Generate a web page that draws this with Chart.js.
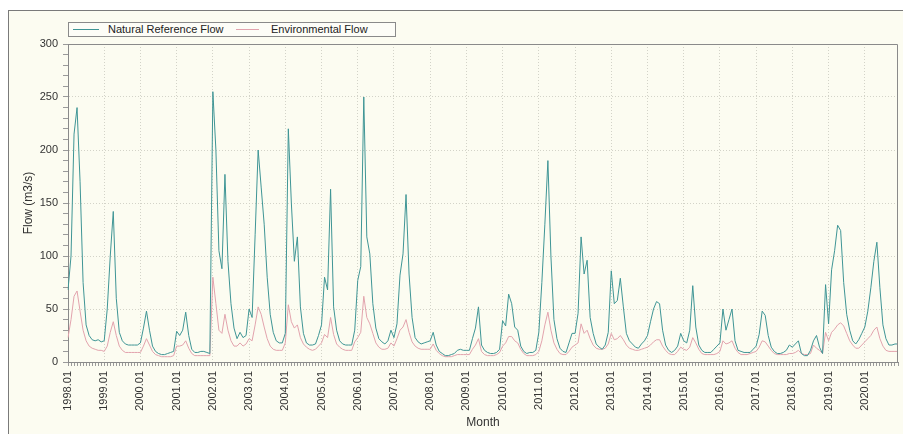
<!DOCTYPE html>
<html><head><meta charset="utf-8">
<script src="https://cdn.jsdelivr.net/npm/chart.js@4.4.0/dist/chart.umd.min.js"></script>
<style>
html,body{margin:0;padding:0;background:#fff;width:903px;height:434px;overflow:hidden}
#frame{position:absolute;left:8px;top:10px;width:1000px;height:1000px;border:1px solid #7a7a7a;background:#fcfcf1}
#wrap{position:absolute;left:0;top:0;width:903px;height:434px}
#legend{position:absolute;left:68px;top:22px;width:326px;height:13px;border:1px solid #8a8a8a;background:#fdfdf7;font:11px "Liberation Sans",Arial,sans-serif;color:#222}
.sw{position:absolute;top:6px;height:1px}
.lt{position:absolute;top:0;line-height:13px;white-space:nowrap}
</style></head><body>
<div id="frame"></div>
<div id="wrap"><canvas id="c" width="903" height="434"></canvas></div>
<div id="legend"></div>
<script>
// ---- data ----
const years = ['1998','1999','2000','2001','2002','2003','2004','2005','2006','2007','2008','2009','2010','2011','2012','2013','2014','2015','2016','2017','2018','2019','2020'];
const months = ['01','02','03','04','05','06','07','08','09','10','11','12'];
const seriesNames = ['Natural Reference Flow', 'Environmental Flow'];
const xTitle = 'Month';
const yTitle = 'Flow (m3/s)';
const yTickValues = [0,10,20,30,40,50,60,70,80,90,100,110,120,130,140,150,160,170,180,190,200,210,220,230,240,250,260,270,280,290,300];
const yLabelValues = [0,50,100,150,200,250,300];

const natural = [
  68,100,215,240,170,75,35,25,21,20,21,19,      // 1998
  20,50,100,142,60,28,20,17,16,16,16,16,        // 1999
  18,32,48,30,15,10,8,7,7,8,9,10,               // 2000
  29,25,30,47,25,12,9,9,10,10,9,8,              // 2001
  255,200,105,88,177,95,55,32,22,28,23,25,      // 2002
  50,42,120,200,165,130,80,45,28,20,18,18,      // 2003
  27,220,150,95,118,52,27,18,16,16,17,25,       // 2004
  35,80,68,163,52,30,20,17,16,16,16,30,         // 2005
  77,90,250,118,102,55,32,22,19,17,20,30,       // 2006
  23,36,82,102,158,83,42,23,19,17,18,19,        // 2007
  20,28,16,10,8,6,6,7,8,11,12,11,               // 2008
  11,11,22,32,52,16,11,9,8,8,9,12,              // 2009
  39,34,64,55,33,30,15,10,8,9,9,11,             // 2010
  28,75,130,190,100,40,22,13,10,9,18,27,        // 2011
  27,46,118,83,96,42,27,17,14,12,16,28,         // 2012
  86,55,58,79,52,27,20,17,14,13,17,20,          // 2013
  25,38,50,57,55,30,16,11,9,11,15,27,           // 2014
  20,18,30,72,33,16,11,9,9,9,12,15,             // 2015
  18,50,30,40,50,20,11,10,9,9,9,12,             // 2016
  15,26,48,44,25,14,10,8,8,9,11,16,             // 2017
  14,17,20,8,6,6,11,20,25,14,8,73,              // 2018
  36,87,105,129,124,75,45,30,20,17,21,27,       // 2019
  33,48,70,95,113,70,35,22,16,16,17,17          // 2020
];
const environmental = [
  23,40,62,67,48,30,20,15,13,12,11,11,          // 1998
  10,15,28,38,25,15,11,9,9,9,9,9,               // 1999
  9,15,22,16,10,7,6,5,5,5,5,6,                  // 2000
  15,15,16,20,13,8,6,6,6,6,6,6,                 // 2001
  80,55,30,27,45,30,20,15,15,18,15,17,          // 2002
  22,20,35,52,45,33,22,15,12,11,11,11,          // 2003
  18,54,38,32,35,23,17,14,12,11,12,15,          // 2004
  18,26,23,42,26,17,14,12,11,11,11,19,          // 2005
  23,28,62,42,36,27,18,14,12,12,13,18,          // 2006
  15,22,30,33,40,28,19,15,13,12,12,12,          // 2007
  12,17,11,8,6,5,5,5,6,7,7,7,                   // 2008
  7,7,12,16,22,10,7,6,6,6,7,9,                  // 2009
  15,18,24,24,20,18,12,8,6,6,6,7,               // 2010
  10,20,35,47,30,18,12,8,7,7,10,14,             // 2011
  16,18,36,27,30,22,16,13,12,12,13,17,          // 2012
  27,21,22,25,21,16,13,12,11,11,12,13,          // 2013
  14,16,19,21,21,15,11,8,7,7,10,14,             // 2014
  12,11,14,23,18,12,8,7,7,7,7,8,                // 2015
  10,20,17,18,20,13,9,7,7,7,8,9,                // 2016
  10,14,20,19,15,11,8,7,7,7,7,8,                // 2017
  8,9,11,8,7,7,8,16,13,11,8,28,                 // 2018
  20,28,31,35,37,34,27,20,16,13,13,16,          // 2019
  19,22,25,30,33,22,15,11,10,10,10,10           // 2020
];

const categories = [];
years.forEach(y => months.forEach(m => categories.push(y + '.' + m)));

// ---- styles ----
const colors = ['#3f9595', '#e2a3ad'];
const FONT = '"Liberation Sans", Arial, sans-serif';
const gridCol = '#d3d3c8';
const axisCol = '#8a8a8a';

// legend (HTML, built from series names)
const lg = document.getElementById('legend');
const lpos = [{sw:4, w:26, t:39}, {sw:167, w:23, t:202}];
seriesNames.forEach((n, i) => {
  const s = document.createElement('div'); s.className = 'sw';
  s.style.left = lpos[i].sw + 'px'; s.style.width = lpos[i].w + 'px'; s.style.background = colors[i];
  const t = document.createElement('div'); t.className = 'lt';
  t.style.left = lpos[i].t + 'px'; t.textContent = n;
  lg.appendChild(s); lg.appendChild(t);
});

const framePlugin = {
  id: 'frame',
  afterDatasetsDraw(chart) {
    const {ctx, chartArea: a} = chart;
    ctx.save();
    ctx.strokeStyle = axisCol; ctx.lineWidth = 1;
    ctx.beginPath();
    const L = Math.round(a.left) + 0.5, T = Math.round(a.top) + 0.5, R = Math.round(a.right) - 0.5, B = Math.round(a.bottom) + 0.5;
    ctx.moveTo(L, T); ctx.lineTo(R, T); ctx.lineTo(R, B);
    ctx.stroke();
    ctx.restore();
  }
};

new Chart(document.getElementById('c'), {
  type: 'line',
  data: {
    labels: categories,
    datasets: [
      {label: seriesNames[0], data: natural, borderColor: colors[0], borderWidth: 1, pointRadius: 0, fill: false, tension: 0},
      {label: seriesNames[1], data: environmental, borderColor: colors[1], borderWidth: 1, pointRadius: 0, fill: false, tension: 0}
    ]
  },
  options: {
    responsive: false, animation: false, devicePixelRatio: 1,
    layout: {padding: {left: 0, top: 44, right: 5, bottom: 0}},
    plugins: {legend: {display: false}, tooltip: {enabled: false}},
    scales: {
      x: {
        type: 'category', offset: false,
        grid: {
          color: c => (c.index % 12 === 0 && c.index > 0) ? gridCol : 'rgba(0,0,0,0)',
          tickColor: '#9a9a9a', tickLength: 4, lineWidth: 1
        },
        border: {color: axisCol, dash: [1, 2]},
        ticks: {
          autoSkip: false, maxRotation: 90, minRotation: 90, padding: 5, color: '#333',
          font: {family: FONT, size: 11},
          callback: (v, i) => (i % 12 === 0 ? categories[i] : '')
        },
        title: {display: true, text: xTitle, color: '#333', font: {family: FONT, size: 12}, padding: {top: 0, bottom: 4}},
        afterFit: s => { s.height = 72; s.paddingRight = 0; s.paddingLeft = 0; }
      },
      y: {
        min: 0, max: 300,
        afterBuildTicks: s => { s.ticks = yTickValues.map(v => ({value: v})); },
        grid: {
          color: c => (c.tick && yLabelValues.includes(c.tick.value) && c.tick.value > 0 && c.tick.value < 300) ? gridCol : 'rgba(0,0,0,0)',
          tickColor: '#9a9a9a', tickLength: 5, lineWidth: 1
        },
        border: {color: axisCol, dash: [1, 2]},
        ticks: {
          autoSkip: false, padding: 5, color: '#333', font: {family: FONT, size: 11},
          callback: v => (yLabelValues.includes(v) ? String(v) : '')
        },
        title: {display: true, text: yTitle, color: '#333', font: {family: FONT, size: 12}, padding: {top: 21, bottom: 0}},
        afterFit: s => { s.width = 68; s.paddingTop = 0; s.paddingBottom = 0; }
      }
    }
  },
  plugins: [framePlugin]
});
</script>
</body></html>
